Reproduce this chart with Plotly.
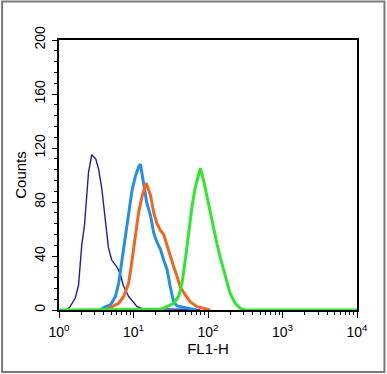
import plotly.graph_objects as go

# FL1-H intensity (channel value) and counts for each histogram
navy_x = [1.11, 1.27, 1.41, 1.65, 1.83, 2.02, 2.20, 2.36, 2.49, 2.75, 3.11, 3.38, 3.75, 4.16,
          4.61, 5.10, 5.96, 6.61, 7.32, 8.62, 10.07, 11.17, 13.2, 16.9, 26.8, 42.5, 63.6, 78.9]
navy_y = [0, 0, 2.5, 8.7, 18.5, 48, 63, 83, 102, 115, 112, 105, 90, 68,
          46, 37, 32, 27, 18, 10, 5, 2.5, 1, 1, 0.5, 1, 0.5, 0]

lblue_x = [3.6, 4.2, 4.9, 5.72, 6.33, 7.03, 7.79, 8.62, 9.58, 10.6, 11.7, 12.4, 13.0, 14.4,
           15.0, 16.9, 18.7, 20.7, 23.0, 25.4, 28.2, 31.2, 34.6, 38.4, 42.5, 52.0, 70.0]
lblue_y = [0, 2.5, 3.7, 10, 20, 37, 52, 69, 89, 99, 106, 108, 101, 87,
           80, 70, 57, 50, 45, 37, 30, 17, 6, 3, 2.5, 1.2, 0]

orange_x = [4.2, 5.17, 6.33, 7.39, 8.62, 9.58, 10.6, 11.7, 13.0, 14.8, 16.9, 18.7, 20.7, 23.0,
            25.4, 28.2, 31.2, 34.6, 38.4, 42.5, 49.6, 57.9, 71.2, 87.3, 107.0]
orange_y = [0, 2.5, 5, 10, 20, 37, 54, 72, 84, 94, 85, 72, 64, 59,
            56, 48, 39, 32, 25, 17, 11, 6, 2.5, 1, 0]

green_x = [1.0, 16.9, 23.0, 28.2, 34.6, 40.3, 44.8, 49.6, 55.0, 61.1, 67.6, 74.8, 78.9, 87.3,
           97.0, 107.4, 119, 132, 146, 162, 180, 199, 232, 271, 316, 10000]
green_y = [0, 0, 0.5, 2.5, 5, 10, 20, 37, 57, 77, 91, 101, 105, 96,
           84, 72, 59, 49, 39, 30, 20, 12, 5, 1.2, 0, 0]

x_tickvals = [1, 10, 100, 1000, 10000]
x_ticktext = ["10<sup>0</sup>", "10<sup>1</sup>", "10<sup>2</sup>", "10<sup>3</sup>", "10<sup>4</sup>"]
y_tickvals = [0, 40, 80, 120, 160, 200]

fig = go.Figure()
fig.add_trace(go.Scatter(x=navy_x, y=navy_y, mode="lines",
                         line=dict(color="#1f1f9e", width=1.4)))
fig.add_trace(go.Scatter(x=lblue_x, y=lblue_y, mode="lines",
                         line=dict(color="#2290e8", width=3)))
fig.add_trace(go.Scatter(x=orange_x, y=orange_y, mode="lines",
                         line=dict(color="#f26522", width=3)))
fig.add_trace(go.Scatter(x=green_x, y=green_y, mode="lines",
                         line=dict(color="#2ee82e", width=3)))

minor_x = [m * 10 ** d for d in range(4) for m in range(2, 10)]

L, R, T, B = 58.5, 30, 40, 64
W, H = 387, 374
pw, ph = W - L - R, H - T - B

fig.update_layout(
    width=W, height=H,
    margin=dict(l=L, r=R, t=T, b=B, pad=0),
    paper_bgcolor="white", plot_bgcolor="white",
    showlegend=False,
    font=dict(family="Liberation Sans, Arial, sans-serif", size=14, color="black"),
    xaxis=dict(
        type="log", range=[0, 4],
        tickvals=x_tickvals, ticktext=x_ticktext,
        ticks="outside", ticklen=6, tickwidth=1.2, tickcolor="black",
        minor=dict(tickvals=minor_x, ticks="outside", ticklen=3, tickwidth=1, tickcolor="black"),
        showgrid=False, zeroline=False,
        showline=True, linecolor="black", linewidth=1.5, mirror=True,
        tickfont=dict(size=14), ticklabelstandoff=2,
        title=dict(text="FL1-H", font=dict(size=15), standoff=0),
    ),
    yaxis=dict(
        range=[0, 200],
        tickvals=y_tickvals, tickangle=-90,
        ticks="outside", ticklen=5, tickwidth=1.2, tickcolor="black",
        minor=dict(dtick=8, ticks="outside", ticklen=3, tickwidth=1, tickcolor="black"),
        showgrid=False, zeroline=False,
        showline=True, linecolor="black", linewidth=1.5, mirror=True,
        tickfont=dict(size=14), ticklabelstandoff=2,
        title=dict(text="Counts", font=dict(size=15), standoff=1),
    ),
)

# outer gray frame around the whole picture
fig.add_shape(type="rect", xref="paper", yref="paper",
              x0=(1.5 - L) / pw, x1=(384.5 - L) / pw,
              y0=(H - B - 372) / ph, y1=(H - B - 1.5) / ph,
              line=dict(color="#7a7a7a", width=2), fillcolor="rgba(0,0,0,0)", layer="below")

fig.write_html("out.html", config={"displayModeBar": False},
               post_script="document.body.style.margin='0';document.body.style.overflow='hidden';")
